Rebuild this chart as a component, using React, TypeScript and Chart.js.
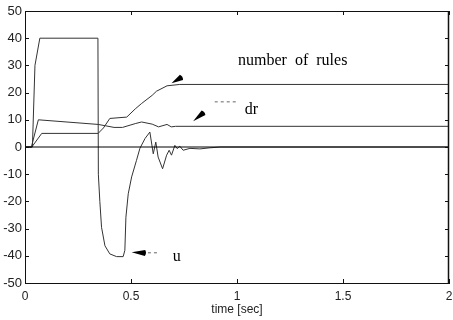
import React, { useEffect, useRef } from "react";
import { Chart, registerables } from "chart.js";

Chart.register(...registerables);

// time axis (sec) and series values
const T_U = [0, 0.035, 0.047, 0.07, 0.344, 0.346, 0.353, 0.361, 0.377, 0.40, 0.432, 0.463, 0.471, 0.476, 0.487, 0.503, 0.526, 0.542, 0.566, 0.589, 0.605, 0.617, 0.628, 0.649, 0.668, 0.680, 0.691, 0.707, 0.718, 0.730, 0.746, 0.778, 0.825, 0.872, 0.92, 2];
const U = [0, 0, 30, 40, 40, -10, -20, -29.5, -36.3, -39.3, -40.3, -40.3, -38, -25.8, -17.2, -11, -4.9, -0.5, 3.1, 5.5, -2.5, 1.8, -3.7, -8, -3, -1.2, -3, 0.6, -0.6, 0.3, -1.2, -0.5, -0.7, -0.3, 0, 0];

const T_NOR = [0, 0.032, 0.079, 0.345, 0.37, 0.40, 0.48, 0.52, 0.55, 0.60, 0.62, 0.67, 0.73, 2];
const NOR = [0, 0, 5, 5, 7, 10.5, 11, 14, 16, 19, 20.5, 22.5, 23, 23];

const T_DR = [0, 0.03, 0.063, 0.345, 0.38, 0.42, 0.46, 0.52, 0.55, 0.60, 0.63, 0.67, 0.69, 0.71, 2];
const DR = [0, 0, 10, 8.3, 7.8, 7.2, 7.2, 8.6, 9.2, 8.4, 7.4, 8.3, 7.4, 7.6, 7.6];

const T_ZERO = [0, 2];
const ZERO = [0, 0];

const X_MIN = 0, X_MAX = 2, X_STEP = 0.5;
const Y_MIN = -50, Y_MAX = 50, Y_STEP = 10;
const X_TITLE = "time [sec]";

// annotations (data coordinates)
const LABELS = [
  { text: "number  of  rules", x: 1.005, y: 30.1 },
  { text: "dr", x: 1.037, y: 12.3 },
  { text: "u", x: 0.697, y: -41.8 },
];
const ARROWS = [
  { tipX: 0.691, tipY: 23.4, tailX: 0.738, tailY: 25.6 },
  { tipX: 0.793, tipY: 9.5, tailX: 0.842, tailY: 12.6 },
  { tipX: 0.503, tipY: -38.7, tailX: 0.566, tailY: -39.0 },
];
const LEADERS = [
  { x1: 0.895, y1: 16.6, x2: 0.998, y2: 16.6 },
  { x1: 0.58, y1: -38.9, x2: 0.636, y2: -38.9 },
];

const pts = (t: number[], v: number[]) => t.map((x, i) => ({ x, y: v[i] }));

const decor = {
  id: "decor",
  afterDraw(chart: any) {
    const ctx = chart.ctx;
    const { left, right, top, bottom } = chart.chartArea;
    const xs = chart.scales.x;
    const ys = chart.scales.y;
    ctx.save();
    ctx.strokeStyle = "#111";
    ctx.lineWidth = 1;
    ctx.beginPath();
    ctx.moveTo(left, top + 0.5);
    ctx.lineTo(right, top + 0.5);
    ctx.stroke();
    ctx.lineWidth = 1.5;
    ctx.beginPath();
    ctx.moveTo(right - 0.5, top);
    ctx.lineTo(right - 0.5, bottom);
    ctx.stroke();
    ctx.lineWidth = 1;
    // inward ticks
    ctx.beginPath();
    for (let v = Y_MIN; v <= Y_MAX; v += Y_STEP) {
      const y = Math.round(ys.getPixelForValue(v)) + 0.5;
      ctx.moveTo(left, y);
      ctx.lineTo(left + 4, y);
      ctx.moveTo(right, y);
      ctx.lineTo(right - 4, y);
    }
    for (let v = X_MIN; v <= X_MAX + 1e-9; v += X_STEP) {
      const x = Math.round(xs.getPixelForValue(v)) + 0.5;
      ctx.moveTo(x, bottom);
      ctx.lineTo(x, bottom - 4);
      ctx.moveTo(x, top);
      ctx.lineTo(x, top + 4);
    }
    ctx.stroke();
    // leaders
    ctx.setLineDash([3, 3]);
    ctx.strokeStyle = "#666";
    ctx.beginPath();
    for (const l of LEADERS) {
      ctx.moveTo(xs.getPixelForValue(l.x1), ys.getPixelForValue(l.y1));
      ctx.lineTo(xs.getPixelForValue(l.x2), ys.getPixelForValue(l.y2));
    }
    ctx.stroke();
    ctx.setLineDash([]);
    // arrows
    ctx.fillStyle = "#000";
    for (const a of ARROWS) {
      const tx = xs.getPixelForValue(a.tipX), ty = ys.getPixelForValue(a.tipY);
      const bx = xs.getPixelForValue(a.tailX), by = ys.getPixelForValue(a.tailY);
      const dx = bx - tx, dy = by - ty;
      const len = Math.hypot(dx, dy);
      const nx = -dy / len, ny = dx / len;
      const w = 3;
      ctx.beginPath();
      ctx.moveTo(tx, ty);
      ctx.lineTo(bx + nx * w, by + ny * w);
      ctx.quadraticCurveTo(bx + dx / len * 2, by + dy / len * 2, bx - nx * w, by - ny * w);
      ctx.closePath();
      ctx.fill();
    }
    // texts
    ctx.font = '16px "Liberation Serif", "DejaVu Serif", serif';
    ctx.fillStyle = "#000";
    ctx.textBaseline = "alphabetic";
    ctx.textAlign = "left";
    for (const l of LABELS) {
      ctx.fillText(l.text, xs.getPixelForValue(l.x), ys.getPixelForValue(l.y));
    }
    ctx.restore();
  },
};

export default function App() {
  const ref = useRef<HTMLCanvasElement | null>(null);
  useEffect(() => {
    if (!ref.current) return;
    const line = (data: any, color: string) => ({
      data,
      borderColor: color,
      borderWidth: 1,
      pointRadius: 0,
      tension: 0,
      fill: false,
    });
    const chart = new Chart(ref.current, {
      type: "line",
      data: {
        datasets: [
          line(pts(T_ZERO, ZERO), "#000"),
          line(pts(T_NOR, NOR), "#333"),
          line(pts(T_DR, DR), "#333"),
          line(pts(T_U, U), "#333"),
        ],
      },
      options: {
        responsive: false,
        animation: false,
        events: [],
        layout: { padding: { top: 11, right: 4, left: 0, bottom: 0 } },
        plugins: { legend: { display: false }, tooltip: { enabled: false } },
        scales: {
          x: {
            type: "linear",
            min: X_MIN,
            max: X_MAX,
            grid: { display: false, drawTicks: false },
            border: { display: true, color: "#111", width: 1 },
            ticks: {
              stepSize: X_STEP,
              padding: 6,
              color: "#222",
              font: { family: '"Liberation Sans", Arial, sans-serif', size: 12 },
              maxRotation: 0,
              callback: (v: any) => String(v),
            },
            title: {
              display: true,
              text: X_TITLE,
              color: "#222",
              font: { family: '"Liberation Sans", Arial, sans-serif', size: 12 },
              padding: { top: 0, bottom: 3 },
            },
            afterFit: (s: any) => {
              s.height = 37;
              s.paddingLeft = 0;
              s.paddingRight = 0;
            },
          },
          y: {
            type: "linear",
            min: Y_MIN,
            max: Y_MAX,
            grid: { display: false, drawTicks: false },
            border: { display: true, color: "#111", width: 1 },
            ticks: {
              stepSize: Y_STEP,
              padding: 3,
              color: "#222",
              font: { family: '"Liberation Sans", Arial, sans-serif', size: 13 },
            },
            afterFit: (s: any) => {
              s.width = 25;
              s.paddingTop = 0;
              s.paddingBottom = 0;
            },
          },
        },
      },
      plugins: [decor],
    } as any);
    return () => chart.destroy();
  }, []);
  return (
    <div style={{ position: "fixed", left: 0, top: 0, width: 453, height: 320, background: "#fff" }}>
      <canvas ref={ref} width={453} height={320} />
    </div>
  );
}
